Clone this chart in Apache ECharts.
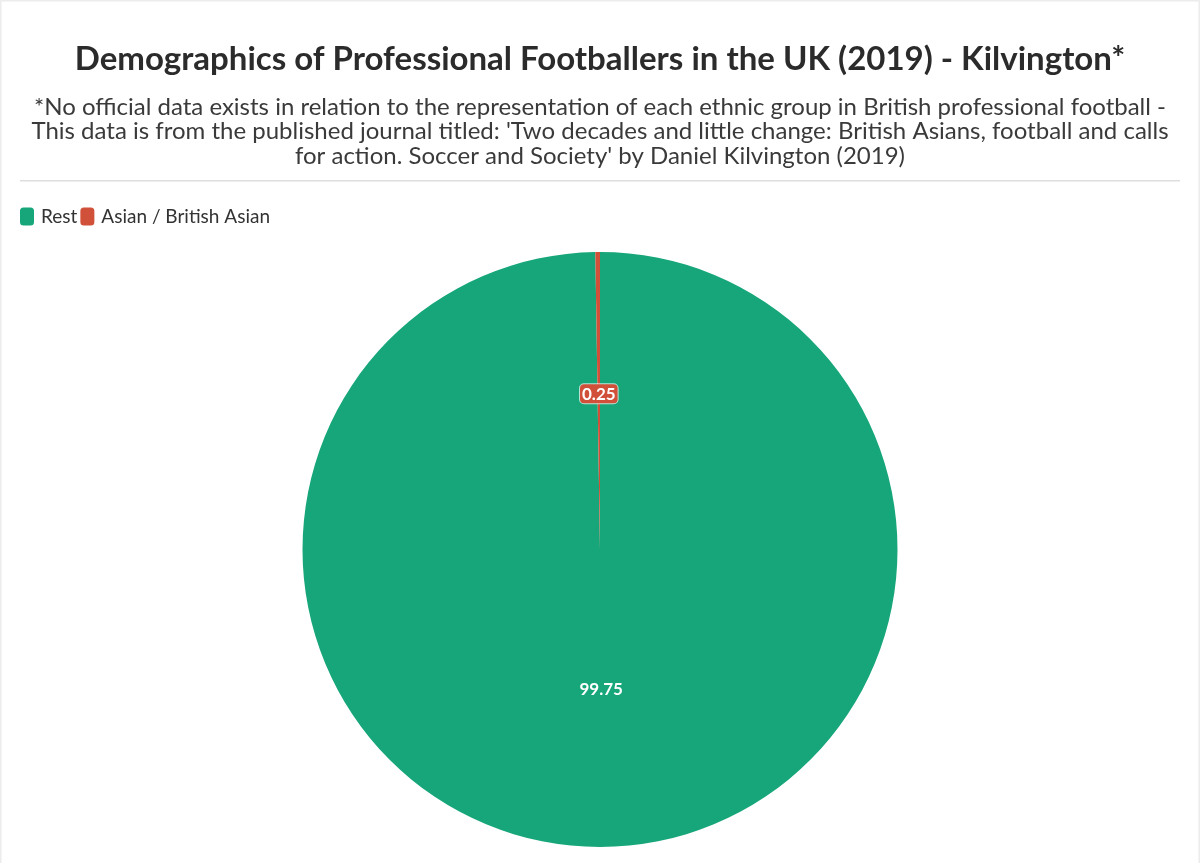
<!DOCTYPE html>
<html>
<head>
<meta charset="utf-8">
<script src="https://cdn.jsdelivr.net/npm/echarts@6/dist/echarts.min.js"></script>
<style>
html,body{margin:0;padding:0;background:#fff;}
#c{width:1200px;height:863px;}
</style>
</head>
<body>
<div id="c"></div>
<script>
const categories = ['Rest', 'Asian / British Asian'];
const values = [99.75, 0.25];
const colors = ['#16a679', '#d1503a'];
const titleText = 'Demographics of Professional Footballers in the UK (2019) - Kilvington*';
const subtitleLines = [
  "*No official data exists in relation to the representation of each ethnic group in British professional football -",
  "This data is from the published journal titled: 'Two decades and little change: British Asians, football and calls",
  "for action. Soccer and Society' by Daniel Kilvington (2019)"
];

const chart = echarts.init(document.getElementById('c'));
const FONT = 'Lato, "Open Sans", sans-serif';
const subTops = [90, 114.5, 139];
chart.setOption({
  animation: false,
  textStyle: { fontFamily: FONT },
  title: [{
    text: titleText,
    left: 'center',
    top: 38,
    textStyle: { fontFamily: FONT, fontSize: 33, fontWeight: 'bold', color: '#2b2b2b' }
  }].concat(subtitleLines.map((s, i) => ({
    text: s,
    left: 'center',
    top: subTops[i],
    textStyle: { fontFamily: FONT, fontSize: 24, fontWeight: 'normal', color: '#3a3a3a' }
  }))),
  graphic: [{
    type: 'rect',
    shape: { x: 20, y: 180, width: 1160, height: 1.5 },
    style: { fill: '#dedede' }
  }, {
    type: 'rect',
    shape: { x: 0.5, y: 0.5, width: 1199, height: 900 },
    style: { fill: 'none', stroke: '#ececec', lineWidth: 2 }
  }],
  legend: {
    left: 15,
    top: 202,
    itemWidth: 14,
    itemHeight: 18,
    itemGap: 3,
    icon: 'roundRect',
    textStyle: { fontFamily: FONT, fontSize: 19, color: '#333', padding: [0, 0, 0, 2] },
    data: categories
  },
  series: [{
    type: 'pie',
    center: [600, 549.5],
    radius: [0, 297.5],
    startAngle: 90,
    clockwise: true,
    avoidLabelOverlap: false,
    labelLine: { show: false },
    data: categories.map((c, i) => ({
      name: c,
      value: values[i],
      itemStyle: { color: colors[i] },
      label: i === 1 ? {
        formatter: p => '{v|' + p.value + '}\n{s| }',
        rich: {
          v: {
            fontFamily: FONT, fontSize: 17, fontWeight: 'bold', color: '#fff',
            backgroundColor: colors[1],
            borderColor: 'rgba(255,255,255,0.7)',
            borderWidth: 1,
            borderRadius: 4,
            padding: [2, 2, 0, 2]
          },
          s: { height: 8, fontSize: 2 }
        }
      } : {
        formatter: p => '{v|' + p.value + '}\n{s| }',
        rich: {
          v: { fontFamily: FONT, fontSize: 17, fontWeight: 'bold', color: '#fff' },
          s: { height: 24, fontSize: 2 }
        }
      }
    })),
    label: {
      show: true,
      position: 'inside',
      fontFamily: FONT,
      fontSize: 17,
      fontWeight: 'bold',
      color: '#ffffff'
    },
    itemStyle: { borderWidth: 0 }
  }]
});
</script>
</body>
</html>
